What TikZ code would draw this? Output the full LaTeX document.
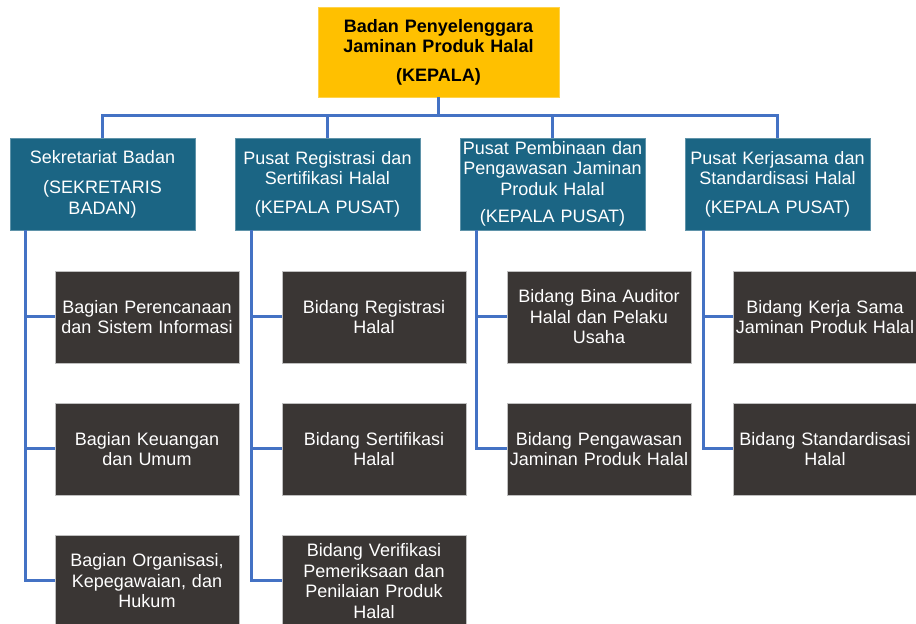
\documentclass[tikz,border=0pt]{standalone}
\usepackage{fontspec}
\setmainfont{Liberation Sans}
\usetikzlibrary{positioning,calc}
\definecolor{emas}{HTML}{FFC000}
\definecolor{biru}{HTML}{1B6584}
\definecolor{gelap}{HTML}{3A3634}
\definecolor{garisbiru}{HTML}{4472C4}

\begin{document}
\begin{tikzpicture}[x=1pt,y=1pt,
    kepalabox/.style={rectangle, fill=emas, draw=emas!70!white, line width=0.6pt, minimum width=241pt, minimum height=90pt, text width=237pt, align=center, inner sep=0pt, outer sep=0pt, font=\fontsize{18}{20.5}\selectfont\bfseries},
    pusatbox/.style={rectangle, fill=biru, draw=biru!70!white, line width=0.6pt, text=white, minimum width=185pt, minimum height=92pt, text width=184pt, align=center, inner sep=0pt, outer sep=0pt, font=\fontsize{18}{20.5}\selectfont},
    bidangbox/.style={rectangle, fill=gelap, draw=gray!50, line width=0.6pt, text=white, minimum width=184pt, minimum height=92pt, text width=184pt, align=center, inner sep=0pt, outer sep=0pt, font=\fontsize{18}{20.5}\selectfont},
    garis/.style={draw=garisbiru, line width=3pt}]
  \useasboundingbox (0,0) rectangle (916,624);

  \node(kepala) [kepalabox] at (438.5,572) {Badan Penyelenggara\\ Jaminan Produk Halal\\[8pt] (KEPALA)};

  \node(sek) [pusatbox, anchor=north west] at (10,486) {Sekretariat Badan\\[10pt] (SEKRETARIS\\ BADAN)};
  \node(reg) [pusatbox, right=40pt of sek] {Pusat Registrasi dan\\ Sertifikasi Halal\\[8pt] (KEPALA PUSAT)};
  \node(pemb) [pusatbox, right=40pt of reg] {Pusat Pembinaan dan\\ Pengawasan Jaminan\\ Produk Halal\\[7pt] (KEPALA PUSAT)};
  \node(kerja) [pusatbox, right=40pt of pemb] {Pusat Kerjasama dan\\ Standardisasi Halal\\[8pt] (KEPALA PUSAT)};

  \node(sek1) [bidangbox, below right=41pt and 45pt of sek.south west] {Bagian Perencanaan\\ dan Sistem Informasi};
  \node(sek2) [bidangbox, below=40pt of sek1] {Bagian Keuangan\\ dan Umum};
  \node(sek3) [bidangbox, below=40pt of sek2] {Bagian Organisasi,\\ Kepegawaian, dan\\ Hukum};

  \node(reg1) [bidangbox, below right=41pt and 47pt of reg.south west] {Bidang Registrasi\\ Halal};
  \node(reg2) [bidangbox, below=40pt of reg1] {Bidang Sertifikasi\\ Halal};
  \node(reg3) [bidangbox, below=40pt of reg2] {Bidang Verifikasi\\ Pemeriksaan dan\\ Penilaian Produk\\ Halal};

  \node(pemb1) [bidangbox, below right=41pt and 47pt of pemb.south west] {Bidang Bina Auditor\\ Halal dan Pelaku\\ Usaha};
  \node(pemb2) [bidangbox, below=40pt of pemb1] {Bidang Pengawasan\\ Jaminan Produk Halal};

  \node(kerja1) [bidangbox, below right=41pt and 48pt of kerja.south west] {Bidang Kerja Sama\\ Jaminan Produk Halal};
  \node(kerja2) [bidangbox, below=40pt of kerja1] {Bidang Standardisasi\\ Halal};

  \draw[garis] (kepala.south) -- ++(0,-19) coordinate (bar);
  \draw[garis] (bar) -| (sek.north);
  \draw[garis] (bar) -| (reg.north);
  \draw[garis] (bar) -| (pemb.north);
  \draw[garis] (bar) -| (kerja.north);

  \draw[garis] ([xshift=15pt]sek.south west) |- (sek1.west);
  \draw[garis] ([xshift=15pt]sek.south west) |- (sek2.west);
  \draw[garis] ([xshift=15pt]sek.south west) |- (sek3.west);
  \draw[garis] ([xshift=16pt]reg.south west) |- (reg1.west);
  \draw[garis] ([xshift=16pt]reg.south west) |- (reg2.west);
  \draw[garis] ([xshift=16pt]reg.south west) |- (reg3.west);
  \draw[garis] ([xshift=16pt]pemb.south west) |- (pemb1.west);
  \draw[garis] ([xshift=16pt]pemb.south west) |- (pemb2.west);
  \draw[garis] ([xshift=18pt]kerja.south west) |- (kerja1.west);
  \draw[garis] ([xshift=18pt]kerja.south west) |- (kerja2.west);
\end{tikzpicture}
\end{document}
